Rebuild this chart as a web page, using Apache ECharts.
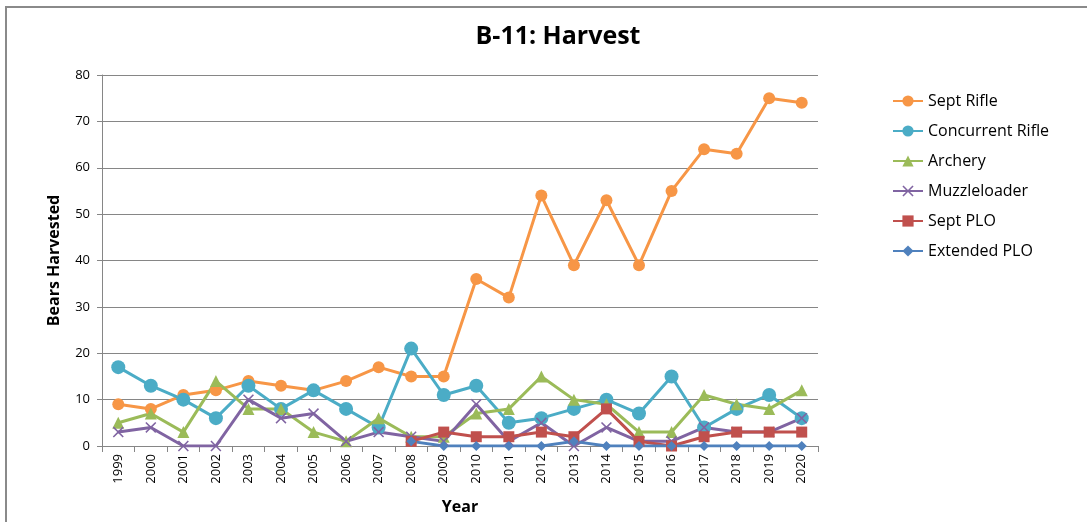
<!DOCTYPE html>
<html>
<head>
<meta charset="utf-8">
<script src="https://cdn.jsdelivr.net/npm/echarts@6/dist/echarts.min.js"></script>
<style>
  html, body { margin: 0; padding: 0; background: #fff; overflow: hidden; }
  #main { width: 1087px; height: 522px; }
  #frame { position: absolute; left: 5px; top: 6px; width: 1200px; height: 600px;
    border-top: 2px solid #8a8a8a; border-left: 2px solid #8a8a8a; pointer-events: none; }
</style>
</head>
<body>
<div id="main"></div>
<div id="frame"></div>
<script>
// years on the x axis
const years = ["1999", "2000", "2001", "2002", "2003", "2004", "2005", "2006", "2007", "2008", "2009",
  "2010", "2011", "2012", "2013", "2014", "2015", "2016", "2017", "2018", "2019", "2020"];

// harvest per season type
const septRifle = [9, 8, 11, 12, 14, 13, 12, 14, 17, 15, 15, 36, 32, 54, 39, 53, 39, 55, 64, 63, 75, 74];
const concurrentRifle = [17, 13, 10, 6, 13, 8, 12, 8, 4, 21, 11, 13, 5, 6, 8, 10, 7, 15, 4, 8, 11, 6];
const archery = [5, 7, 3, 14, 8, 8, 3, 1, 6, 2, 2, 7, 8, 15, 10, 9, 3, 3, 11, 9, 8, 12];
const muzzleloader = [3, 4, 0, 0, 10, 6, 7, 1, 3, 2, 1, 9, 1, 5, 0, 4, 1, 1, 4, 3, 3, 6];
const septPLO = [null, null, null, null, null, null, null, null, null, 1, 3, 2, 2, 3, 2, 8, 1, 0, 2, 3, 3, 3];
const extendedPLO = [null, null, null, null, null, null, null, null, null, 1, 0, 0, 0, 0, 1, 0, 0, 0, 0, 0, 0, 0];

const yTicks = [0, 10, 20, 30, 40, 50, 60, 70, 80];

const font = "'Open Sans', sans-serif";

// X shaped marker
const xMark = "path://M0,1L1,0L5,4L9,0L10,1L6,5L10,9L9,10L5,6L1,10L0,9L4,5Z";

const mk = (name, data, color, symbol, size) => ({
  name: name,
  type: "line",
  data: data,
  symbol: symbol,
  symbolSize: size,
  connectNulls: false,
  lineStyle: { width: 3, color: color },
  itemStyle: { color: color },
  emphasis: { disabled: true }
});

const myChart = echarts.init(document.getElementById("main"));

const option = {
  animation: false,
  textStyle: { fontFamily: font },
  title: {
    text: "B-11: Harvest",
    left: 553,
    textAlign: "center",
    top: 19,
    textStyle: { fontSize: 25, fontWeight: "bold", color: "#000", fontFamily: font }
  },
  legend: {
    orient: "vertical",
    left: 887,
    top: 88,
    itemGap: 14,
    itemWidth: 30,
    itemHeight: 14,
    textStyle: { fontSize: 16, color: "#000", fontFamily: font },
    data: ["Sept Rifle", "Concurrent Rifle", "Archery", "Muzzleloader", "Sept PLO", "Extended PLO"]
  },
  grid: { left: 102, right: 269, top: 75, bottom: 76 },
  xAxis: {
    type: "category",
    data: years,
    boundaryGap: true,
    name: "Year",
    nameLocation: "middle",
    nameGap: 53,
    nameTextStyle: { fontSize: 16, fontWeight: "bold", color: "#000" },
    axisLine: { lineStyle: { color: "#868686", width: 1 } },
    axisTick: { show: true, length: 6, lineStyle: { color: "#868686" } },
    axisLabel: { rotate: 90, fontSize: 13, color: "#000", margin: 8 }
  },
  yAxis: {
    type: "value",
    min: 0,
    max: 80,
    interval: 10,
    name: "Bears Harvested",
    nameLocation: "middle",
    nameGap: 40,
    nameTextStyle: { fontSize: 16, fontWeight: "bold", color: "#000" },
    axisLine: { show: true, lineStyle: { color: "#868686", width: 1 } },
    axisTick: { show: true, length: 5, inside: false, lineStyle: { color: "#868686" } },
    axisLabel: {
      fontSize: 13, color: "#000", margin: 12,
      formatter: v => (yTicks.indexOf(v) >= 0 ? String(v) : "")
    },
    splitLine: { lineStyle: { color: "#868686", width: 1 } }
  },
  series: [
    mk("Sept Rifle", septRifle, "#F79646", "circle", 12),
    mk("Concurrent Rifle", concurrentRifle, "#4BACC6", "circle", 14),
    mk("Archery", archery, "#9BBB59", "triangle", 12),
    mk("Muzzleloader", muzzleloader, "#8064A2", xMark, 11),
    mk("Sept PLO", septPLO, "#C0504D", "rect", 11),
    mk("Extended PLO", extendedPLO, "#4F81BD", "diamond", 10)
  ]
};

option && myChart.setOption(option);
</script>
</body>
</html>
